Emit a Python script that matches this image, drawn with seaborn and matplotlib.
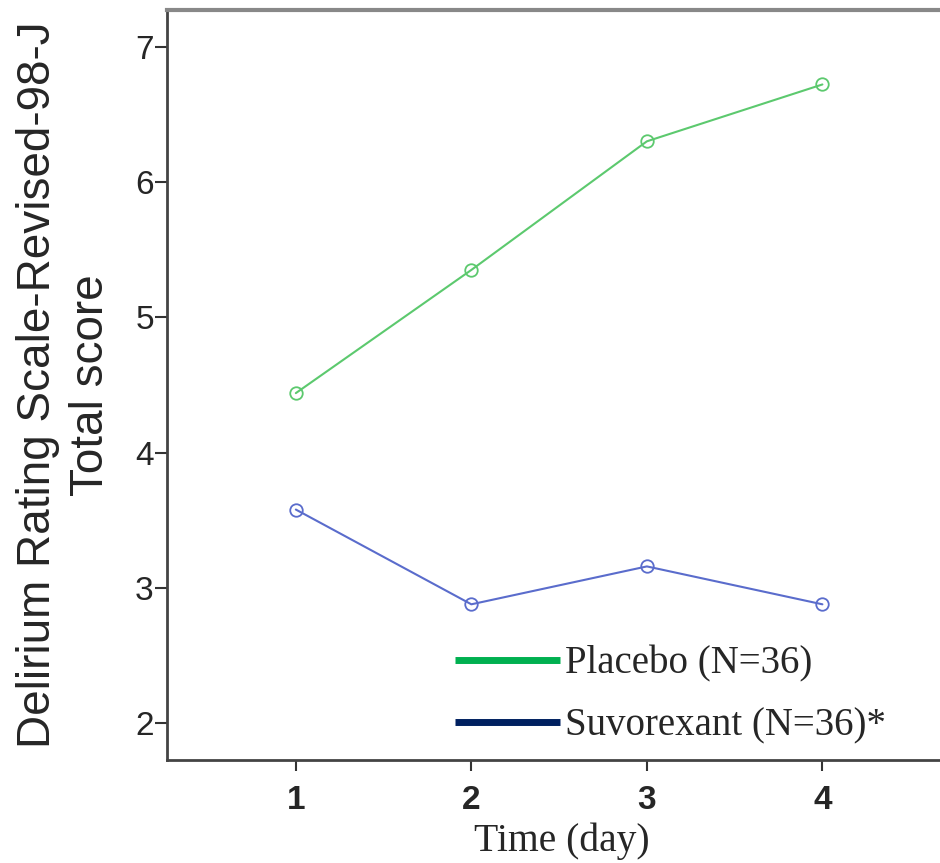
import matplotlib
matplotlib.use("Agg")
import matplotlib.pyplot as plt
from matplotlib.lines import Line2D
import seaborn as sns
import pandas as pd


DAYS = [1, 2, 3, 4]
PLACEBO = [4.44, 5.35, 6.30, 6.72]
SUVOREXANT = [3.58, 2.88, 3.16, 2.88]
GROUPS = ["Placebo (N=36)", "Suvorexant (N=36)*"]
Y_TICKS = [2, 3, 4, 5, 6, 7]

LINE_COLORS = {GROUPS[0]: "#5cc96e", GROUPS[1]: "#5a6ccc"}
LEGEND_COLORS = {GROUPS[0]: "#00b050", GROUPS[1]: "#002060"}


df = pd.DataFrame(
    {
        "Day": DAYS * 2,
        "Score": PLACEBO + SUVOREXANT,
        "Group": [GROUPS[0]] * len(DAYS) + [GROUPS[1]] * len(DAYS),
    }
)

sns.set_style("ticks")
plt.rcParams["font.family"] = ["Liberation Sans", "DejaVu Sans"]
serif = ["Liberation Serif", "DejaVu Serif"]

fig = plt.figure(figsize=(9.4, 8.63), dpi=100)
ax = fig.add_axes([167 / 940, 103 / 863, 1 - 167 / 940, 750 / 863])

sns.lineplot(
    data=df,
    x="Day",
    y="Score",
    hue="Group",
    palette=LINE_COLORS,
    marker="o",
    markersize=9,
    markerfacecolor="none",
    markeredgewidth=1.3,
    linewidth=1.5,
    legend=False,
    ax=ax,
)
for line in ax.lines:
    line.set_markeredgecolor(line.get_color())

ax.set_xlim(0.266, 4.67)
ax.set_ylim(1.73, 7.27)
ax.set_xticks(DAYS)
ax.set_yticks(Y_TICKS)
ax.tick_params(axis="y", labelsize=24, length=8.5, width=1.5, color="#333333", pad=1)
ax.tick_params(axis="x", labelsize=24, length=8, width=1.5, color="#333333", pad=10)
for lbl in ax.get_xticklabels():
    lbl.set_fontweight("bold")

for side in ["left", "bottom"]:
    ax.spines[side].set_linewidth(2)
    ax.spines[side].set_color("#444444")
ax.spines["top"].set_linewidth(3)
ax.spines["top"].set_color("#888888")
ax.spines["right"].set_visible(False)

ax.set_xlabel("Time (day)", family=serif, fontsize=28.5)
ax.xaxis.set_label_coords((562 - 167) / 773, -0.083)
ax.set_ylabel("Delirium Rating Scale-Revised-98-J\nTotal score", fontsize=33, linespacing=1.25)
ax.yaxis.set_label_coords(-0.07, 0.5)

handles = [
    Line2D([0], [0], color=LEGEND_COLORS[g], linewidth=5, solid_capstyle="butt")
    for g in GROUPS
]
ax.legend(
    handles,
    GROUPS,
    loc="upper left",
    bbox_to_anchor=(0.348, 0.179),
    frameon=False,
    handlelength=2.7,
    handletextpad=0.12,
    labelspacing=0.65,
    borderpad=0,
    prop={"family": serif, "size": 28},
)

plt.savefig("out.png", dpi=100)
